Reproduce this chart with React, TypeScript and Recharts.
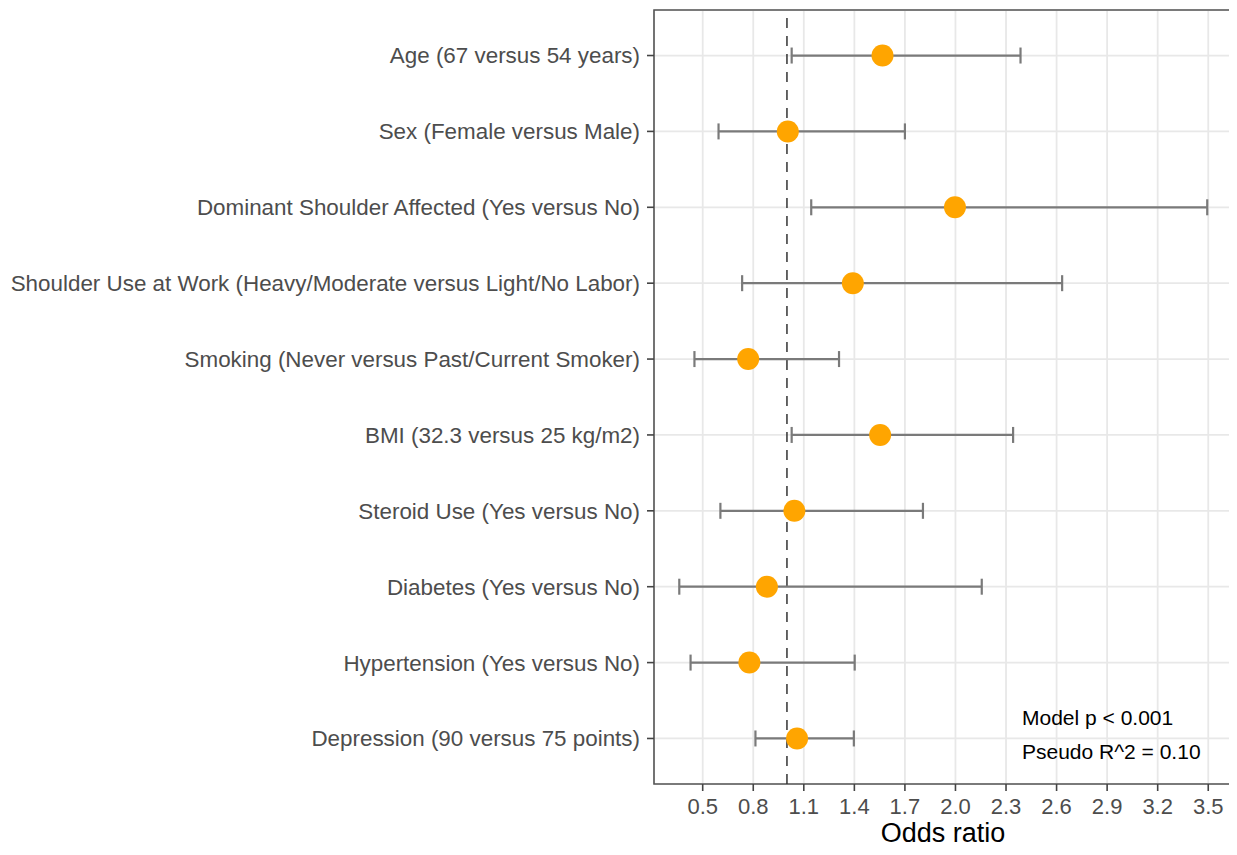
import React from 'react';
import {
  ScatterChart,
  Scatter,
  XAxis,
  YAxis,
  CartesianGrid,
  ReferenceLine,
  ReferenceArea,
  ErrorBar,
} from 'recharts';

const categories = [
  'Age (67 versus 54 years)',
  'Sex (Female versus Male)',
  'Dominant Shoulder Affected (Yes versus No)',
  'Shoulder Use at Work (Heavy/Moderate versus Light/No Labor)',
  'Smoking (Never versus Past/Current Smoker)',
  'BMI (32.3 versus 25 kg/m2)',
  'Steroid Use (Yes versus No)',
  'Diabetes (Yes versus No)',
  'Hypertension (Yes versus No)',
  'Depression (90 versus 75 points)',
];
const oddsRatios = [1.567, 1.005, 1.997, 1.391, 0.77, 1.553, 1.044, 0.881, 0.777, 1.06];
const lowerCI = [1.028, 0.594, 1.144, 0.734, 0.451, 1.028, 0.605, 0.361, 0.428, 0.813];
const upperCI = [2.386, 1.7, 3.494, 2.633, 1.309, 2.342, 1.807, 2.156, 1.402, 1.397];

const majorTicks = [0.5, 0.8, 1.1, 1.4, 1.7, 2.0, 2.3, 2.6, 2.9, 3.2, 3.5];
const minorTicks = [0.35, 0.65, 0.95, 1.25, 1.55, 1.85, 2.15, 2.45, 2.75, 3.05, 3.35];
const rowTicks = [1, 2, 3, 4, 5, 6, 7, 8, 9, 10];
const xDomain: [number, number] = [0.211, 3.641];
const yDomain: [number, number] = [0.4, 10.6];
const referenceOR = 1;
const annotationLines = ['Model p < 0.001', 'Pseudo R^2 = 0.10'];

const data = categories.map((label, i) => ({
  label,
  row: i + 1,
  or: oddsRatios[i],
  err: [oddsRatios[i] - lowerCI[i], upperCI[i] - oddsRatios[i]],
}));

const FONT = '"Liberation Sans", Arial, Helvetica, sans-serif';

const Dot = (props: any) => {
  const { cx, cy } = props;
  if (cx == null || cy == null) return null;
  return <circle cx={cx} cy={cy} r={11} fill="#FFA500" />;
};

export default function App() {
  return (
    <div style={{ position: 'relative', width: 1229, height: 839, fontFamily: FONT }}>
      <ScatterChart
        width={1229}
        height={839}
        margin={{ top: 2, right: 5, bottom: 0, left: 0 }}
      >
        <CartesianGrid
          xAxisId="minor"
          horizontal={false}
          stroke="#ebebeb"
          strokeWidth={1.2}
        />
        <CartesianGrid
          xAxisId="main"
          stroke="#e8e8e8"
          strokeWidth={1.8}
        />
        <XAxis
          xAxisId="minor"
          type="number"
          domain={xDomain}
          ticks={minorTicks}
          allowDataOverflow
          hide
        />
        <XAxis
          xAxisId="main"
          type="number"
          dataKey="or"
          domain={xDomain}
          ticks={majorTicks}
          allowDataOverflow
          interval={0}
          height={63}
          tickSize={7}
          tickMargin={7}
          axisLine={false}
          tickLine={{ stroke: '#444', strokeWidth: 1.6 }}
          tickFormatter={(v: number) => v.toFixed(1)}
          tick={{ fill: '#4d4d4d', fontSize: 22, fontFamily: FONT }}
          label={{
            value: 'Odds ratio',
            position: 'insideBottom',
            offset: 5,
            fill: '#000',
            fontSize: 27,
            fontFamily: FONT,
          }}
        />
        <YAxis
          type="number"
          dataKey="row"
          domain={yDomain}
          ticks={rowTicks}
          reversed
          allowDataOverflow
          interval={0}
          width={646}
          tickSize={7}
          tickMargin={7}
          axisLine={false}
          tickLine={{ stroke: '#444', strokeWidth: 1.6 }}
          tickFormatter={(v: number) => categories[v - 1] ?? ''}
          tick={{ fill: '#4d4d4d', fontSize: 22.4, fontFamily: FONT }}
        />
        <ReferenceLine
          xAxisId="main"
          x={referenceOR}
          stroke="#333"
          strokeWidth={1.5}
          strokeDasharray="10 8"
        />
        <Scatter
          xAxisId="main"
          data={data}
          shape={<Dot />}
          isAnimationActive={false}
        >
          <ErrorBar
            dataKey="err"
            direction="x"
            width={8}
            stroke="#7a7a7a"
            strokeWidth={2.2}
            isAnimationActive={false}
          />
        </Scatter>
        <ReferenceArea
          xAxisId="main"
          x1={xDomain[0]}
          x2={xDomain[1]}
          y1={yDomain[0]}
          y2={yDomain[1]}
          fill="none"
          fillOpacity={0}
          stroke="#555"
          strokeWidth={1.6}
        />
      </ScatterChart>
      <div
        style={{
          position: 'absolute',
          left: 1014,
          top: 693,
          fontSize: 21,
          lineHeight: '34px',
          color: '#000',
          fontFamily: FONT,
          whiteSpace: 'nowrap',
        }}
      >
        {annotationLines.map((t) => (
          <div key={t}>{t}</div>
        ))}
      </div>
    </div>
  );
}
